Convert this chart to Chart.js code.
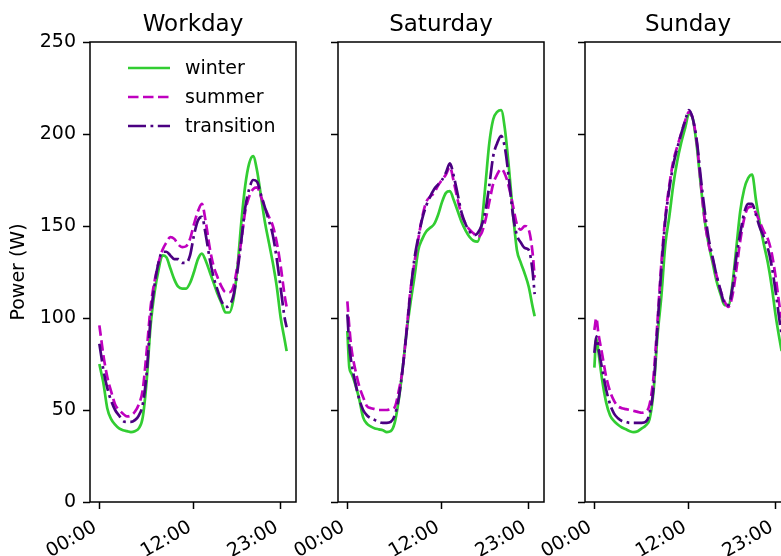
<!DOCTYPE html>
<html><head><meta charset="utf-8">
<script src="https://cdn.jsdelivr.net/npm/chart.js@4/dist/chart.umd.min.js"></script>
<style>
html,body{margin:0;padding:0;background:#fff;overflow:hidden}
#wrap{position:relative;width:781px;height:556px;overflow:hidden;background:#fff}
#wrap canvas{position:absolute;left:0;top:0}
</style></head><body>
<div id="wrap">
<canvas id="c0" width="800" height="556"></canvas>
<canvas id="c1" width="800" height="556"></canvas>
<canvas id="c2" width="800" height="556"></canvas>
</div>
<script>
// ---- data (hours of day, power in W) ----
const hours = [0,0.25,0.5,1,1.5,2,2.5,3,3.5,4,4.5,5,5.5,6,6.5,7,7.5,8,8.5,9,9.5,10,10.5,11,11.5,12,12.5,13,13.5,14,14.5,15,15.5,16,16.5,17,17.5,18,18.5,19,19.5,20,20.5,21,21.5,22,22.5,23,23.5,23.75];
const tickHours = [0, 12, 23];
const yTicks = [0, 50, 100, 150, 200, 250];
const panelTitles = ['Workday', 'Saturday', 'Sunday'];
const seriesNames = ['winter', 'summer', 'transition'];
const yAxisTitle = 'Power (W)';

const workdayWinter = [75,70,65,51,45,42,40,39,38.5,38,38.5,40,46,66,96,114,126,134,133,127,121,117,116,116,119,125,132,135,131,125,119,113,108,103,103,110,127,152,172,184,188,180,166,152,141,130,117,100,88,82];
const workdaySummer = [96,88,80,68,60,53,50,48,46.5,47,49,53,61,82,106,120,130,137,141,144,143,140,138.5,139,143,151,158,162,152,138,128,122,117,114,114,117,128,142,158,166,170,171,166,160,155,150,141,128,112,106];
const workdayTransition = [86,79,72,62,55,50,47,44,43.5,43.5,44.5,47,53,70,100,118,130,136,136,134,132,132,130,130,134,145,153,155,145,132,122,115,109,106,107,112,125,142,160,170,175,174,167,160,153,145,132,116,100,95];

const saturdayWinter = [93,73,70,64,56,46,42.5,41,40,39.5,39,38,38.5,43,55,72,92,108,122,137,143,147,149,151,156,163,168,169,164,158,152,147.5,144,142,141.5,150,172,195,208,212,213,202,181,157,137,130,124,117,106,101];
const saturdaySummer = [109,95,84,72,63,57,52,51,50.5,50,50,50,50.5,51.5,60,72,93,115,130,143,155,163,166,168,172,175,178,182,174,164,156,151,148,146,144,146,153,163,173,178,181,178,171,161,151,148,150,148,135,122];
const saturdayTransition = [102,85,76,65,56,50,47,45.5,44.5,43.5,43,43,43.5,47,56,72,92,114,132,144,154,161,166,170,172.5,175,179,184,177,167,157,151,147,145,146,150,158,172,188,195,199,192,175,156,145,141,138,137,125,113];

const sundayWinter = [73,89,82,66,54,47,44,42,40.5,39.5,38.5,38,38.5,40,41.5,45,60,90,112,140,155,172,185,195,203,211,208,193,172,153,140,130,120,113,107,107,118,138,158,170,176,178,164,151,140,130,117,101,88,82];
const sundaySummer = [93.5,100,92,80,68,60,55,52,51,50.5,50,49.5,49,48.5,49,53,68,98,130,155,172,185,193,200,207,212,208,195,173,153,140,132,123,115,109,106,112,126,142,154,160,160.5,157,152,147,143,135,122,106,100];
const sundayTransition = [81,90,84,72,61,53,48,45.5,44,43.5,43,43,43,43,43.5,48,62,95,127,153,170,183,192,200,207,213,208,196,176,158,143,133,123,115,108,107,116,133,146,157,162,162,156,149,144,138,128,114,98,91];

// ---- styles ----
const FONT = '"DejaVu Sans", "Liberation Sans", sans-serif';
const seriesStyles = [
  {color: '#32CD32', dash: [], order: 3},
  {color: '#BF00BF', dash: [10.5, 4.5], order: 2},
  {color: '#4B0082', dash: [18, 4.5, 2.8, 4.5], order: 1}
];
const LW = 2.7;

const framePlugin = {
  id: 'frame',
  afterDraw(chart, args, opts) {
    const ctx = chart.ctx, a = chart.chartArea;
    ctx.save();
    ctx.strokeStyle = '#000';
    ctx.lineWidth = 1.5;
    ctx.setLineDash([]);
    ctx.strokeRect(a.left, a.top, a.right - a.left, a.bottom - a.top);
    ctx.fillStyle = '#000';
    ctx.font = '23px ' + FONT;
    ctx.textAlign = 'center';
    ctx.textBaseline = 'alphabetic';
    ctx.fillText(opts.title, (a.left + a.right) / 2, a.top - 11);
    if (opts.legend) {
      chart.data.datasets.forEach((ds, i) => {
        const y = a.top + 26 + 29 * i;
        ctx.beginPath();
        ctx.setLineDash(ds.borderDash || []);
        ctx.strokeStyle = ds.borderColor;
        ctx.lineWidth = ds.borderWidth;
        ctx.moveTo(a.left + 38, y);
        ctx.lineTo(a.left + 80, y);
        ctx.stroke();
        ctx.setLineDash([]);
        ctx.fillStyle = '#000';
        ctx.font = '19px ' + FONT;
        ctx.textAlign = 'left';
        ctx.textBaseline = 'middle';
        ctx.fillText(ds.label, a.left + 95, y + 1);
      });
    }
    ctx.restore();
  }
};

const panels = [
  {id: 'c0', title: panelTitles[0], series: [workdayWinter, workdaySummer, workdayTransition], padL: 0, yW: 90, padR: 504, showY: true, legend: true},
  {id: 'c1', title: panelTitles[1], series: [saturdayWinter, saturdaySummer, saturdayTransition], padL: 328, yW: 10, padR: 256, showY: false, legend: false},
  {id: 'c2', title: panelTitles[2], series: [sundayWinter, sundaySummer, sundayTransition], padL: 575, yW: 10, padR: 9, showY: false, legend: false}
];

function fmtHour(v) { return String(v).padStart(2, '0') + ':00'; }

panels.forEach(p => {
  const datasets = p.series.map((vals, i) => ({
    label: seriesNames[i],
    data: hours.map((h, k) => ({x: h, y: vals[k]})),
    borderColor: seriesStyles[i].color,
    backgroundColor: seriesStyles[i].color,
    borderDash: seriesStyles[i].dash,
    borderWidth: LW,
    pointRadius: 0,
    fill: false,
    cubicInterpolationMode: 'monotone',
    order: seriesStyles[i].order
  }));
  new Chart(document.getElementById(p.id), {
    type: 'line',
    data: {datasets},
    plugins: [framePlugin],
    options: {
      responsive: false,
      animation: false,
      events: [],
      layout: {padding: {left: p.padL, right: p.padR, top: 42, bottom: 0}},
      plugins: {
        legend: {display: false},
        title: {display: false},
        tooltip: {enabled: false},
        frame: {title: p.title, legend: p.legend}
      },
      scales: {
        x: {
          type: 'linear',
          min: -1.1875,
          max: 24.9375,
          border: {display: false},
          grid: {drawOnChartArea: false, drawTicks: true, tickLength: 7, tickWidth: 1.5, tickColor: '#000'},
          afterBuildTicks: s => { s.ticks = tickHours.map(v => ({value: v})); },
          afterFit: s => { s.height = 54; },
          ticks: {
            autoSkip: false, minRotation: 30, maxRotation: 30, padding: 7, labelOffset: -4,
            color: '#000', font: {family: FONT, size: 19},
            callback: v => fmtHour(v)
          }
        },
        y: {
          type: 'linear',
          min: 0, max: 250,
          border: {display: false},
          grid: {drawOnChartArea: false, drawTicks: true, tickLength: 7, tickWidth: 1.5, tickColor: '#000'},
          afterBuildTicks: s => { s.ticks = yTicks.map(v => ({value: v})); },
          afterFit: s => { s.width = p.yW; },
          ticks: {display: p.showY, padding: 7, color: '#000', font: {family: FONT, size: 19}},
          title: {display: p.showY, text: yAxisTitle, color: '#000', font: {family: FONT, size: 19}, padding: {top: 8, bottom: 0}}
        }
      }
    }
  });
});
</script>
</body></html>
